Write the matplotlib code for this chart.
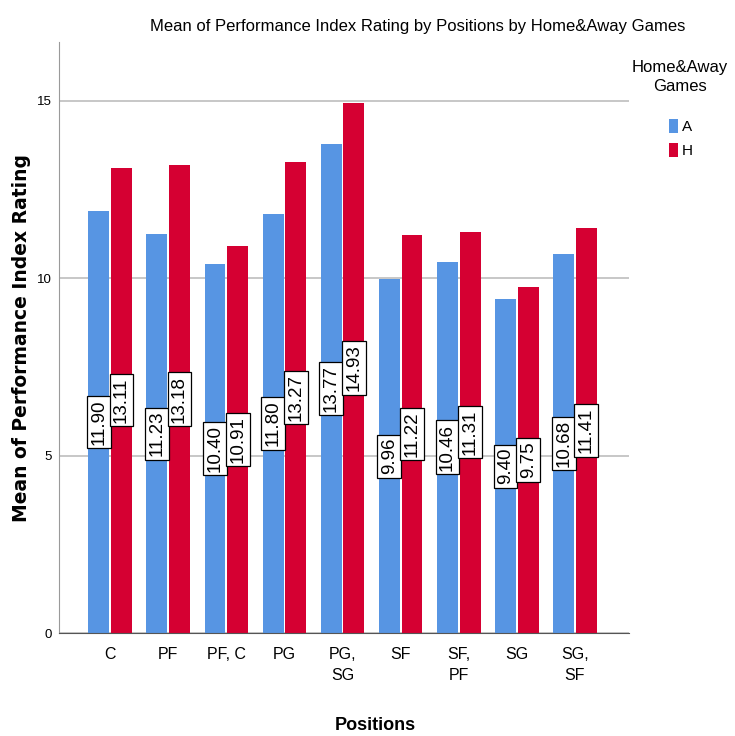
import numpy as np
import matplotlib.pyplot as plt
from matplotlib.patches import Patch

# 数据
positions = ['C', 'PF', 'PF, C', 'PG', 'PG,\nSG', 'SF', 'SF,\nPF', 'SG', 'SG,\nSF']
away = [11.90, 11.23, 10.40, 11.80, 13.77, 9.96, 10.46, 9.40, 10.68]
home = [13.11, 13.18, 10.91, 13.27, 14.93, 11.22, 11.31, 9.75, 11.41]
yticks = [0, 5, 10, 15]

blue = '#5795E3'
red = '#D50032'
font = 'Liberation Sans'

fig = plt.figure(figsize=(7.35, 7.36), dpi=100)
ax = fig.add_axes([59/735, 1 - 633/736, 570/735, 591/736])

x = np.arange(len(positions))
w = 0.36
off = w/2 + 0.015
ax.bar(x - off, away, w, color=blue, zorder=2)
ax.bar(x + off, home, w, color=red, zorder=2)

# 数值标签（竖排，带框）
for xi, a, h in zip(x, away, home):
    for xx, v in ((xi - off, a), (xi + off, h)):
        ax.text(xx, v/2, f'{v:.2f}', rotation=90, ha='center', va='center',
                fontsize=13.5, family=font, zorder=3,
                bbox=dict(facecolor='white', edgecolor='black', linewidth=0.9,
                          boxstyle='square,pad=0.18'))

ax.set_xlim(-0.88, 8.93)
ax.set_ylim(0, 16.65)
ax.set_yticks(yticks)
ax.set_yticklabels([str(t) for t in yticks], family=font, fontsize=9.5)
ax.yaxis.grid(True, color='#bdbdbd', linewidth=1.2, zorder=0)
ax.set_xticks(x)
ax.set_xticklabels(positions, family=font, fontsize=11.5, linespacing=1.55)
ax.tick_params(axis='both', length=0, pad=10)
ax.tick_params(axis='y', pad=5)
for s in ['top', 'right']:
    ax.spines[s].set_visible(False)
ax.spines['left'].set_color('#9a9a9a')
ax.spines['bottom'].set_color('#555555')

ax.set_xlabel('Positions', family=font, fontsize=13, fontweight='bold', va='center')
ax.xaxis.set_label_coords((375 - 59)/570, -(726 - 633)/591)
ax.set_ylabel('Mean of Performance Index Rating', family='DejaVu Sans', fontsize=13.5,
              fontweight='bold', va='center')
ax.yaxis.set_label_coords((22 - 59)/570, (633 - 338)/591)
fig.text(418/735, 1 - 27/736, 'Mean of Performance Index Rating by Positions by Home&Away Games',
         family=font, fontsize=12, ha='center', va='center')

# 图例
fig.text(680/735, 1 - 77/736, 'Home&Away\nGames', family=font, fontsize=12,
         ha='center', va='center', linespacing=1.4)
handles = [Patch(facecolor=blue, label='A'), Patch(facecolor=red, label='H')]
fig.legend(handles=handles, loc='upper left',
           bbox_to_anchor=(655/735, 1 - 105/736), frameon=False,
           prop={'family': font, 'size': 11}, handlelength=0.6,
           handleheight=1.1, handletextpad=0.25, labelspacing=0.55)

fig.savefig('out.png', dpi=100)
